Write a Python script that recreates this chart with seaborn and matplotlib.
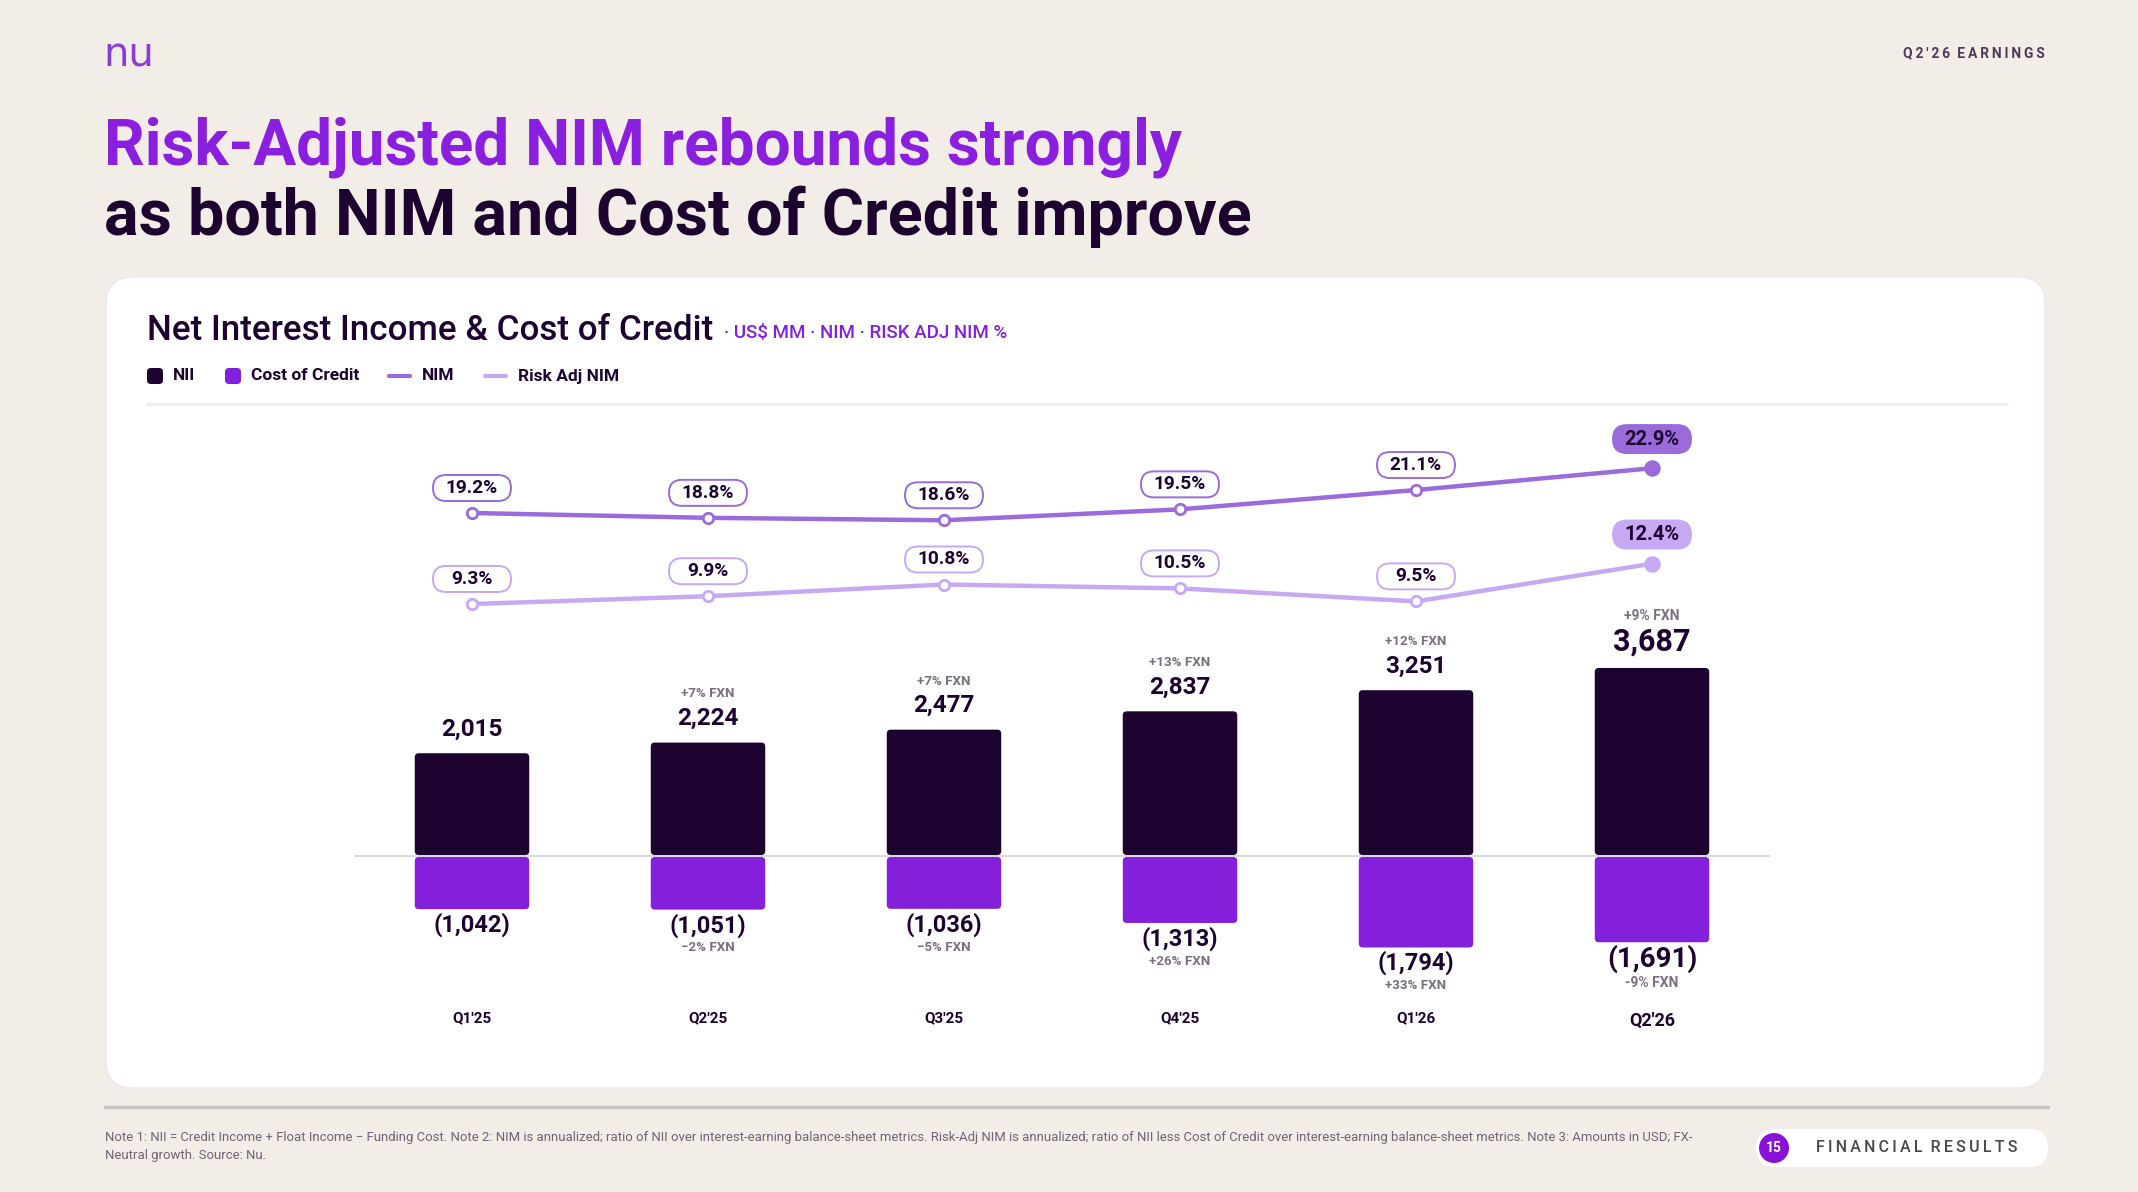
import numpy as np
import pandas as pd
import matplotlib
matplotlib.use('Agg')
import matplotlib.pyplot as plt
import seaborn as sns
from matplotlib.patches import FancyBboxPatch, Circle, BoxStyle

quarters = ["Q1'25", "Q2'25", "Q3'25", "Q4'25", "Q1'26", "Q2'26"]
nii = [2015, 2224, 2477, 2837, 3251, 3687]
cost_of_credit = [-1042, -1051, -1036, -1313, -1794, -1691]
nim = [19.2, 18.8, 18.6, 19.5, 21.1, 22.9]
risk_adj_nim = [9.3, 9.9, 10.8, 10.5, 9.5, 12.4]
nii_fxn = ["", "+7% FXN", "+7% FXN", "+13% FXN", "+12% FXN", "+9% FXN"]
coc_fxn = ["", "\u22122% FXN", "\u22125% FXN", "+26% FXN", "+33% FXN", "-9% FXN"]

W, H = 2138, 1192
BG = '#F2EDE6'
DARK = '#1D0330'
PURPLE = '#8420DC'
NIM_C = '#9B6ADB'
RA_C = '#C6A8F3'
GREY = '#7A7080'

sns.set_style('white')
plt.rcParams['font.family'] = ['Roboto', 'DejaVu Sans']


def spaced(s, sep='\u2009', word_sep='\u2002'):
    return word_sep.join(sep.join(w) for w in s.split())


def fig_rect(left, top, right, bottom):
    return [left / W, 1 - bottom / H, (right - left) / W, (bottom - top) / H]


class Pill:
    """fixed-size rounded badge centred on the text"""
    def __init__(self, w, h):
        self.w, self.h = w, h

    def __call__(self, x0, y0, width, height, mutation_size):
        cx, cy = x0 + width / 2, y0 + height / 2
        r = self.h / 2 / mutation_size
        return BoxStyle.Round(pad=0, rounding_size=r)(
            cx - self.w / 2, cy - self.h / 2, self.w, self.h, mutation_size)


fig = plt.figure(figsize=(W / 100, H / 100), dpi=100, facecolor=BG)

# page layer, pixel units
bg = fig.add_axes([0, 0, 1, 1], zorder=0)
bg.set_xlim(0, W)
bg.set_ylim(H, 0)
bg.axis('off')

bg.text(103, 54, 'nu', fontsize=29, color='#8A3CDA', va='center', ha='left',
        weight='medium', family='DejaVu Sans')
bg.text(2045, 53, spaced("Q2'26 EARNINGS"),
        ha='right', va='center', fontsize=10, weight='bold', color='#4B3A5A')

bg.text(104, 164, 'Risk-Adjusted NIM rebounds strongly',
        weight='bold', fontsize=46, color='#8A1FE0', va='baseline')
bg.text(104, 235, 'as both NIM and Cost of Credit improve',
        weight='bold', fontsize=46.5, color=DARK, va='baseline')

bg.add_patch(FancyBboxPatch((106, 277), 1939, 811,
                            boxstyle='round,pad=0,rounding_size=27',
                            fc='white', ec='#ECE8EE', lw=1))

bg.text(147, 340, 'Net Interest Income & Cost of Credit', fontsize=25.2,
        weight='medium', color=DARK, va='baseline')
bg.text(724, 338, '\u00b7 US$ MM \u00b7 NIM \u00b7 RISK ADJ NIM %', fontsize=13.5,
        weight='medium', color=PURPLE, va='baseline')

# legend
ly = 376
for x0, col, lab in [(147, DARK, 'NII'), (225, PURPLE, 'Cost of Credit')]:
    bg.add_patch(FancyBboxPatch((x0, ly - 8), 16, 16,
                                boxstyle='round,pad=0,rounding_size=4',
                                fc=col, ec='none'))
    bg.text(x0 + 26, ly, lab, fontsize=12.5, weight='bold', color=DARK,
            va='center')
for x0, col, lab in [(387, NIM_C, 'NIM'), (483, RA_C, 'Risk Adj NIM')]:
    bg.plot([x0 + 2, x0 + 23], [ly, ly], color=col, lw=3,
            solid_capstyle='round')
    bg.text(x0 + 35, ly, lab, fontsize=12.5, weight='bold', color=DARK,
            va='center')
bg.plot([147, 2007], [404, 404], color='#EFEEF1', lw=2.2)

# footer
bg.plot([105, 2048], [1107, 1107], color='#CAC5C4', lw=2.5)
bg.text(105, 1138, 'Note 1: NII = Credit Income + Float Income \u2212 Funding Cost. '
        'Note 2: NIM is annualized; ratio of NII over interest-earning balance-sheet '
        'metrics. Risk-Adj NIM is annualized; ratio of NII less Cost of Credit over '
        'interest-earning balance-sheet metrics. Note 3: Amounts in USD; FX-',
        fontsize=9.45, color='#6E6475', va='center')
bg.text(105, 1155, 'Neutral growth. Source: Nu.', fontsize=9.45, color='#6E6475',
        va='center')
bg.add_patch(FancyBboxPatch((1756, 1129), 292, 38,
                            boxstyle='round,pad=0,rounding_size=19',
                            fc='white', ec='none'))
bg.add_patch(Circle((1774, 1148), 15, fc='#8A12D8', ec='none'))
bg.text(1774, 1148, '15', fontsize=10, weight='bold', color='white',
        ha='center', va='center')
bg.text(1917, 1148, spaced('FINANCIAL RESULTS'),
        fontsize=11.5, weight='medium', color='#4A4A4A', ha='center',
        va='center')

# chart
TOP, BOT, ZERO = 420, 990, 856
PX_PER_MM = 0.0510
ax = fig.add_axes(fig_rect(354, TOP, 1770, BOT), zorder=2)
ax.patch.set_alpha(0)

df = pd.DataFrame({'quarter': quarters, 'nii': nii, 'coc': cost_of_credit})
sns.barplot(data=df, x='quarter', y='nii', color=DARK, saturation=1,
            width=0.485, errorbar=None, ax=ax)
sns.barplot(data=df, x='quarter', y='coc', color=PURPLE, saturation=1,
            width=0.485, errorbar=None, ax=ax)
ax.set_ylim(-(BOT - ZERO) / PX_PER_MM, (ZERO - TOP) / PX_PER_MM)
ax.set_xlim(-0.5, len(quarters) - 0.5)

# rounded bar corners
x_units_per_px = 1 / 236
y_units_per_px = 1 / PX_PER_MM
gap = 1.0 * y_units_per_px
for bar in list(ax.patches):
    x0, w = bar.get_x(), bar.get_width()
    y0, h = bar.get_y(), bar.get_height()
    lo, hi = min(y0, y0 + h), max(y0, y0 + h)
    if hi <= 0:
        hi -= gap
    else:
        lo += gap
    fc = bar.get_facecolor()
    bar.remove()
    ax.add_patch(FancyBboxPatch(
        (x0, lo), w, hi - lo,
        boxstyle=f'round,pad=0,rounding_size={4 * x_units_per_px}',
        mutation_aspect=y_units_per_px / x_units_per_px,
        fc=fc, ec='none', zorder=3))

ax.axhline(0, color='#D6D2DB', lw=1.2, zorder=2)

last = len(quarters) - 1
for i, v in enumerate(nii):
    big = i == last
    ax.annotate(f'{v:,}', (i, v), xytext=(0, 19 if big else 17.3),
                textcoords='offset points', ha='center', va='center',
                fontsize=22 if big else 17.5, weight='bold', color=DARK)
    if nii_fxn[i]:
        ax.annotate(nii_fxn[i], (i, v), xytext=(0, 37.5 if big else 35),
                    textcoords='offset points', ha='center', va='center',
                    fontsize=10 if big else 9.6, weight='bold', color=GREY)
for i, v in enumerate(cost_of_credit):
    big = i == last
    ax.annotate(f'({abs(v):,})', (i, v), xytext=(0, -12 if big else -11.3),
                textcoords='offset points', ha='center', va='center',
                fontsize=20 if big else 17, weight='bold', color=DARK)
    if coc_fxn[i]:
        ax.annotate(coc_fxn[i], (i, v), xytext=(0, -29 if big else -27.5),
                    textcoords='offset points', ha='center', va='center',
                    fontsize=10 if big else 9.6, weight='bold', color=GREY)

ax.set_xticks(range(len(quarters)))
ax.set_xticklabels(quarters)
ax.tick_params(axis='x', length=0, pad=15.5, labelsize=11, labelcolor=DARK)
for j, t in enumerate(ax.get_xticklabels()):
    t.set_fontweight('bold')
    if j == last:
        t.set_fontsize(13)
ax.set_yticks([])
ax.set_xlabel('')
ax.set_ylabel('')
sns.despine(ax=ax, left=True, bottom=True)

# rate lines on their own scales (first point anchored at its pixel row)
x_idx = np.arange(len(quarters))
for series, col, anchor_px, px_per_pct in [(nim, NIM_C, 513, 12.1),
                                           (risk_adj_nim, RA_C, 604, 13.0)]:
    tw = ax.twinx()
    v0 = series[0]
    tw.set_ylim(v0 - (BOT - anchor_px) / px_per_pct,
                v0 + (anchor_px - TOP) / px_per_pct)
    sns.lineplot(x=x_idx, y=series, ax=tw, color=col, lw=3.2, marker='o',
                 markersize=7.5, markerfacecolor='white',
                 markeredgecolor=col, markeredgewidth=2, zorder=4)
    sns.scatterplot(x=x_idx[-1:], y=series[-1:], ax=tw, color=col, s=120,
                    edgecolor=col, zorder=5)
    for i, v in enumerate(series):
        big = i == last
        tw.annotate(f'{v}%', (i, v), xytext=(0, 21 if big else 18),
                    textcoords='offset points', ha='center', va='center',
                    fontsize=14.5 if big else 13.8, weight='bold', color=DARK,
                    zorder=6,
                    bbox=dict(boxstyle=Pill(78, 28 if big else 26),
                              fc=col if big else 'white', ec=col, lw=1.4))
    tw.axis('off')

fig.savefig('out.png', dpi=100, facecolor=BG)
